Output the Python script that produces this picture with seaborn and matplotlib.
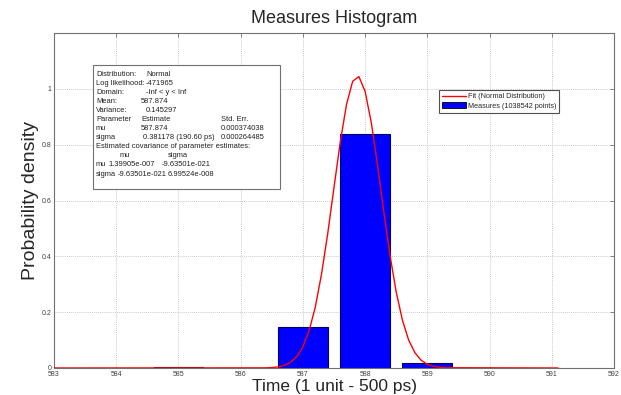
import matplotlib
matplotlib.use("Agg")
import matplotlib.pyplot as plt
import seaborn as sns
import numpy as np
from matplotlib.patches import Rectangle, Patch
from matplotlib.lines import Line2D

# ---- data ----
bin_centers = [585, 586, 587, 588, 589]
densities = [0.002, 0.0, 0.146, 0.838, 0.018]

fit_x = [583.0, 586.4, 586.5, 586.6, 586.7, 586.8, 586.9, 587.0, 587.1, 587.2, 587.3,
         587.4, 587.5, 587.6, 587.7, 587.8, 587.9, 588.0, 588.1, 588.2, 588.3,
         588.4, 588.5, 588.6, 588.7, 588.8, 588.9, 589.0, 589.1, 589.2, 589.3, 591.1]
fit_y = [0.0, 0.0005, 0.0016, 0.0039, 0.0092, 0.020, 0.040, 0.076, 0.133, 0.219, 0.337,
         0.483, 0.647, 0.808, 0.943, 1.027, 1.044, 0.991, 0.878, 0.726, 0.560,
         0.404, 0.272, 0.171, 0.100, 0.055, 0.028, 0.013, 0.006, 0.0025, 0.001, 0.0]

x_ticks = [583, 584, 585, 586, 587, 588, 589, 590, 591, 592]
y_ticks = [0, 0.2, 0.4, 0.6, 0.8, 1.0]
y_tick_labels = ["0", "0.2", "0.4", "0.6", "0.8", "1"]

title = "Measures Histogram"
xlabel = "Time (1 unit - 500 ps)"
ylabel = "Probability density"
fit_label = "Fit (Normal Distribution)"
bar_label = "Measures (1038542 points)"

info_lines = [
    [("Distribution:", 96), ("Normal", 146)],
    [("Log likelihood:", 96), ("-471965", 146)],
    [("Domain:", 96), ("-Inf < y < Inf", 146)],
    [("Mean:", 96), ("587.874", 141)],
    [("Variance:", 96), ("0.145297", 146)],
    [("Parameter", 96), ("Estimate", 141), ("Std. Err.", 221)],
    [("mu", 96), ("587.874", 141), ("0.000374038", 221)],
    [("sigma", 96), ("0.381178 (190.60 ps)", 143), ("0.000264485", 221)],
    [("Estimated covariance of parameter estimates:", 96)],
    [("mu", 120), ("sigma", 168)],
    [("mu", 96), ("1.39905e-007", 108), ("-9.63501e-021", 162)],
    [("sigma", 96), ("-9.63501e-021", 118), ("6.99524e-008", 168)],
]

# ---- style ----
sns.set_style("white")
plt.rcParams['font.family'] = ['Liberation Sans', 'DejaVu Sans']

W, H = 621, 395
fig = plt.figure(figsize=(W / 100, H / 100), dpi=100)
ax = fig.add_axes([54 / W, 1 - 368 / H, (614 - 54) / W, (368 - 33) / H])

def px(x, y):
    return (x / W, 1 - y / H)

sns.histplot(x=bin_centers, weights=densities, discrete=True, shrink=0.8,
             stat="count", color="#0000ff", edgecolor="#000060", linewidth=0.8,
             alpha=1, ax=ax, zorder=2)
sns.lineplot(x=fit_x, y=fit_y, color="#ff0000", linewidth=1.0, ax=ax, zorder=3)

ax.set_xlim(583, 592)
ax.set_ylim(0, 1.2)
ax.set_xticks(x_ticks)
ax.set_xticklabels([str(t) for t in x_ticks])
ax.set_yticks(y_ticks)
ax.set_yticklabels(y_tick_labels)
ax.tick_params(direction="in", top=True, right=True, length=3, width=0.6,
               labelsize=5, color="#707070", labelcolor="#404040", pad=2)
ax.grid(True, linestyle=(0, (1, 1.5)), color="#b8b8b8", linewidth=0.6)
ax.set_axisbelow(True)
for s in ax.spines.values():
    s.set_color("#707070")
    s.set_linewidth(0.8)

ax.set_title(title, fontsize=13, pad=7)
ax.set_xlabel(xlabel, fontsize=12.5, labelpad=1)
ax.set_ylabel(ylabel, fontsize=14, labelpad=2)

handles = [Line2D([0], [0], color="#ff0000", lw=1.0),
           Patch(facecolor="#0000ff", edgecolor="#000000", linewidth=0.6)]
leg = ax.legend(handles, [fit_label, bar_label], loc="upper left",
                bbox_to_anchor=px(439, 90), bbox_transform=fig.transFigure,
                borderaxespad=0, fancybox=False, framealpha=1, edgecolor="#505050",
                fontsize=5.2, handlelength=3.3, handleheight=0.9, borderpad=0.4,
                labelspacing=0.25, handletextpad=0.3)
leg.get_frame().set_linewidth(0.8)

# info box
x0, y0 = px(93, 189)
fig.add_artist(Rectangle((x0, y0), 187 / W, 124 / H, transform=fig.transFigure,
                         facecolor="white", edgecolor="#707070", linewidth=0.8, zorder=5))
for i, line in enumerate(info_lines):
    yy = 74 + 9.1 * i
    for txt, xx in line:
        fig.text(*px(xx, yy), txt, fontsize=5.4, va="center", ha="left",
                 color="#202020", zorder=6)

fig.savefig("out.png", dpi=100)
